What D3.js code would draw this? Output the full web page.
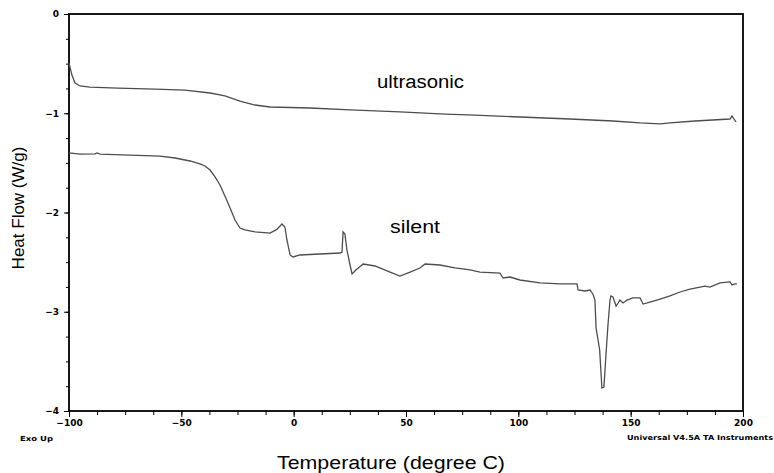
<!DOCTYPE html>
<html>
<head lang="en">
  <meta charset="UTF-8">
  <title>DSC heat flow</title>
  <script src="https://cdn.jsdelivr.net/npm/d3@7"></script>
</head>
<style>
  body { margin: 0; background: #fff; }
  #chart text { font-family: "Liberation Sans", Arial, sans-serif; }
  #chart .tick text, #chart .stamp { font-family: "DejaVu Sans", sans-serif; font-weight: bold; }
</style>
<body>

<svg id="chart" width="774" height="473"></svg>

<script>
  // Data
  var xTicks = [-100, -50, 0, 50, 100, 150, 200];
  var yTicks = [0, -1, -2, -3, -4];

  var ultrasonicT  = [-100, -98.7, -97.3, -95.1, -90.7, -78.2, -61.7, -48.4, -37.2, -30.6, -23.9, -17.2, -10.5, 7.3, 25.1, 47.3, 67.4, 80.7, 100.7, 123.0, 142.1, 154.2, 163.1, 167.5, 178.6, 194.2, 195.1, 196.0, 196.9];
  var ultrasonicHF = [-0.494, -0.615, -0.695, -0.725, -0.736, -0.746, -0.756, -0.766, -0.796, -0.826, -0.877, -0.917, -0.937, -0.947, -0.967, -0.987, -1.008, -1.018, -1.038, -1.058, -1.078, -1.098, -1.108, -1.098, -1.078, -1.058, -1.028, -1.058, -1.088];

  var silentT  = [-100, -95.1, -88.4, -87.5, -86.2, -72.8, -59.5, -52.8, -46.1, -41.7, -39.5, -37.2, -35.0, -32.8, -30.6, -28.3, -26.1, -23.9, -21.7, -17.2, -10.5, -7.5, -5.2, -3.9, -3.0, -1.6, -0.3, 2.8, 11.7, 20.6, 21.5, 22.0, 22.8, 23.7, 25.1, 26.0, 27.7, 30.9, 36.2, 42.9, 47.3, 51.8, 56.2, 58.5, 65.1, 71.8, 78.5, 82.9, 91.8, 93.2, 96.3, 100.7, 109.6, 118.5, 126.1, 126.6, 129.7, 131.9, 133.2, 134.1, 134.6, 135.5, 136.2, 136.8, 137.2, 138.1, 139.0, 139.9, 140.8, 141.2, 142.1, 143.5, 144.4, 145.2, 146.6, 148.4, 151.0, 154.2, 155.5, 158.6, 163.1, 167.5, 172.0, 176.4, 183.1, 185.3, 189.8, 194.2, 195.1, 196.4, 197.3];
  var silentHF = [-1.400, -1.411, -1.410, -1.400, -1.411, -1.421, -1.431, -1.451, -1.481, -1.511, -1.531, -1.572, -1.642, -1.723, -1.834, -1.955, -2.076, -2.156, -2.176, -2.196, -2.207, -2.170, -2.116, -2.146, -2.277, -2.428, -2.448, -2.428, -2.418, -2.408, -2.400, -2.196, -2.217, -2.378, -2.529, -2.620, -2.579, -2.519, -2.539, -2.600, -2.640, -2.600, -2.559, -2.519, -2.529, -2.559, -2.579, -2.600, -2.610, -2.660, -2.650, -2.680, -2.710, -2.720, -2.720, -2.781, -2.791, -2.781, -2.821, -2.882, -3.164, -3.285, -3.385, -3.617, -3.768, -3.758, -3.436, -3.134, -2.882, -2.841, -2.851, -2.942, -2.912, -2.882, -2.912, -2.882, -2.861, -2.861, -2.922, -2.902, -2.872, -2.841, -2.801, -2.771, -2.741, -2.751, -2.710, -2.700, -2.730, -2.720, -2.720];

  var margin = { left: 69, right: 31, top: 14, bottom: 62 };
  var width  = 774 - margin.left - margin.right;
  var height = 473 - margin.top - margin.bottom;

  var svg = d3.select('#chart');
  var plot = svg.append('g')
    .attr('transform', 'translate(' + margin.left + ',' + margin.top + ')');

  var x = d3.scaleLinear().domain([-100, 200]).range([0, width]);
  var y = d3.scaleLinear().domain([-4, 0]).range([height, 0]);

  // minor ticks first, then majors on top
  plot.append('g')
    .attr('transform', 'translate(0,' + height + ')')
    .call(d3.axisBottom(x).tickValues(d3.range(-100, 200.1, 12.5)).tickSize(4).tickFormat(''))
    .call(function (g) { g.select('.domain').remove(); });

  plot.append('g')
    .call(d3.axisLeft(y).tickValues(d3.range(-4, 0.01, 0.25)).tickSize(3).tickFormat(''))
    .call(function (g) { g.select('.domain').remove(); });

  var xAxis = plot.append('g')
    .attr('transform', 'translate(0,' + height + ')')
    .call(d3.axisBottom(x).tickValues(xTicks).tickSize(6).tickPadding(3).tickFormat(d3.format('d')));
  xAxis.select('.domain').remove();
  xAxis.selectAll('text').attr('font-size', 9).attr('fill', '#000');

  var yAxis = plot.append('g')
    .call(d3.axisLeft(y).tickValues(yTicks).tickSize(5).tickPadding(5).tickFormat(d3.format('d')));
  yAxis.select('.domain').remove();
  yAxis.selectAll('text').attr('font-size', 9).attr('fill', '#000');

  // frame
  plot.append('rect')
    .attr('x', 0).attr('y', 0)
    .attr('width', width).attr('height', height)
    .attr('fill', 'none')
    .attr('stroke', '#000')
    .attr('stroke-width', 1.8);

  var line = d3.line()
    .x(function (d) { return x(d[0]); })
    .y(function (d) { return y(d[1]); });

  var series = [
    d3.zip(ultrasonicT, ultrasonicHF),
    d3.zip(silentT, silentHF)
  ];

  plot.selectAll('path.curve')
    .data(series)
    .enter()
      .append('path')
      .attr('class', 'curve')
      .attr('d', line)
      .attr('fill', 'none')
      .attr('stroke', '#4d4d4d')
      .attr('stroke-width', 1.3);

  // labels
  svg.append('text')
    .attr('x', 377).attr('y', 88)
    .attr('font-size', 18)
    .attr('textLength', 87).attr('lengthAdjust', 'spacingAndGlyphs')
    .text('ultrasonic');

  svg.append('text')
    .attr('x', 390).attr('y', 233)
    .attr('font-size', 18)
    .attr('textLength', 50).attr('lengthAdjust', 'spacingAndGlyphs')
    .text('silent');

  svg.append('text')
    .attr('x', 391).attr('y', 469)
    .attr('text-anchor', 'middle')
    .attr('font-size', 18)
    .attr('textLength', 228).attr('lengthAdjust', 'spacingAndGlyphs')
    .text('Temperature (degree C)');

  svg.append('text')
    .attr('transform', 'translate(24,208) rotate(-90)')
    .attr('text-anchor', 'middle')
    .attr('font-size', 17)
    .text('Heat Flow (W/g)');

  svg.append('text')
    .attr('class', 'stamp')
    .attr('x', 20).attr('y', 441)
    .attr('font-size', 7)
    .attr('textLength', 33).attr('lengthAdjust', 'spacingAndGlyphs')
    .text('Exo Up');

  svg.append('text')
    .attr('class', 'stamp')
    .attr('x', 627).attr('y', 440)
    .attr('font-size', 7)
    .attr('textLength', 146).attr('lengthAdjust', 'spacingAndGlyphs')
    .text('Universal V4.5A TA Instruments');

</script>
</body>
</html>
